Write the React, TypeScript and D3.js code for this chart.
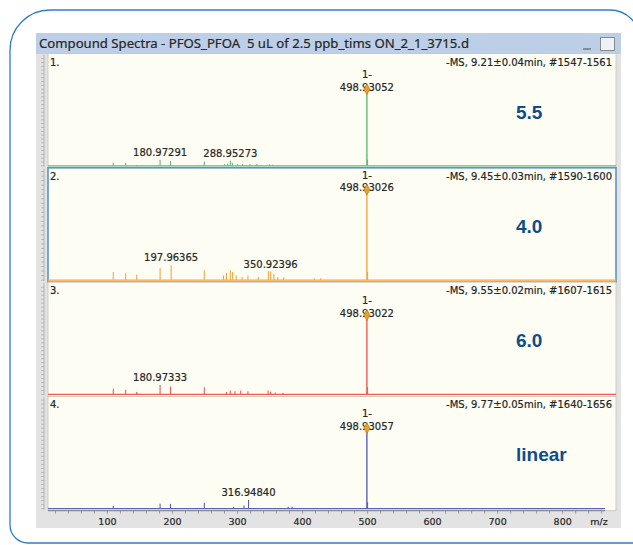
import React from 'react';
import * as d3 from 'd3';

// scan info
const scanNames = ['1.', '2.', '3.', '4.'];
const scanHeaders = [
  '-MS, 9.21±0.04min, #1547-1561',
  '-MS, 9.45±0.03min, #1590-1600',
  '-MS, 9.55±0.02min, #1607-1615',
  '-MS, 9.77±0.05min, #1640-1656',
];
const callouts = ['5.5', '4.0', '6.0', 'linear'];
const seriesColors = ['#5fba76', '#f6a646', '#ec5b58', '#5a62b6'];
const baseMz = [498.93052, 498.93026, 498.93022, 498.93057];
const yMax = [144, 122, 139, 137];

// [m/z, relative intensity %]
const scan1Peaks: [number, number][] = [
  [108.99, 4], [127.99, 3.5], [145.0, 1], [180.97291, 8], [196.97, 6],
  [248.96, 5.5], [280.0, 2], [284.96, 3], [288.95273, 6.5], [292.0, 4],
  [300.0, 2], [308.0, 2.5], [318.96, 2], [330.0, 2.5], [349.0, 2], [354.0, 1.5],
  [499.93, 8], [498.93052, 100],
];
const scan2Peaks: [number, number][] = [
  [108.99, 9], [127.99, 7.5], [144.99, 6], [180.97, 13.5], [197.96365, 16.5],
  [248.96, 11], [278.5, 5], [283.0, 8], [288.95, 11], [292.5, 9], [298.0, 5],
  [307.0, 3.5], [316.0, 5], [332.0, 3.3], [347.5, 10], [350.92396, 9.5],
  [356.0, 6.5], [362.0, 3.5], [371.0, 3], [418.0, 2], [428.0, 2],
  [499.93, 9], [498.93026, 100],
];
const scan3Peaks: [number, number][] = [
  [108.99, 7], [127.99, 6], [144.99, 3], [180.97333, 12], [196.97, 10],
  [248.96, 9], [283.0, 3], [288.95, 5], [296.0, 4], [305.0, 5], [316.0, 4],
  [347.0, 5], [350.9, 3.5], [358.0, 2.5], [370.0, 2],
  [499.93, 9], [498.93022, 100],
];
const scan4Peaks: [number, number][] = [
  [108.99, 3.5], [130.0, 1], [150.0, 1], [180.97, 6], [196.97, 6], [248.96, 7.5],
  [294.0, 2.5], [310.0, 4], [316.9484, 11], [345.0, 1], [378.0, 2.5], [384.0, 2.5],
  [499.93, 8], [498.93057, 100],
];
const scanPeaks = [scan1Peaks, scan2Peaks, scan3Peaks, scan4Peaks];
const scanLabels = [[180.97291, 288.95273], [197.96365, 350.92396], [180.97333], [316.9484]];

const xTicks = [100, 200, 300, 400, 500, 600, 700, 800];
const xMinorTicks = d3.range(20, 861, 20);

const W = 633, H = 545;
const plotL = 48, plotR = 616;
const firstTop = 53.5, panelH = 114.3;
const labelFont = '"DejaVu Sans", Verdana, sans-serif';
const ink = { fill: '#262626', stroke: '#262626', strokeWidth: 0.2 };

export default function App() {
  const x = d3.scaleLinear().domain([8.6, 882]).range([plotL, plotR]);
  const diamond = d3.symbol().type(d3.symbolDiamond).size(34)() || '';
  const axisY = firstTop + 4 * panelH;

  return (
    <svg width={W} height={H} style={{ position: 'absolute', left: 0, top: 0, background: '#fff' }}>
      {/* outer rounded frame */}
      <path
        d="M10,50 A40,40 0 0 1 50,10 L610,10 A30,30 0 0 1 640,40 L640,560 M10,50 L10,525 A18,18 0 0 0 28,543 L640,543"
        fill="none" stroke="#2f7fc6" strokeWidth={1.3} />

      {/* window */}
      <rect x={36} y={33} width={585} height={495} fill="#e3e3e3" />
      <rect x={36} y={33} width={585} height={21} fill="#bccfe6" />
      <text x={39} y={48} fontFamily='"Noto Sans", "Open Sans", sans-serif' fontSize={12.5}
        {...ink} textLength={430} lengthAdjust="spacingAndGlyphs" style={{ whiteSpace: 'pre' }}>
        {'Compound Spectra - PFOS_PFOA  5 uL of 2.5 ppb_tims ON_2_1_3715.d'}
      </text>
      <line x1={583} x2={591} y1={49} y2={49} stroke="#777" strokeWidth={1.5} />
      <rect x={600.5} y={37.5} width={14} height={13} fill="#eef2f6" stroke="#8a8a8a" />

      {scanPeaks.map((peaks, i) => {
        const top = firstTop + i * panelH;
        const bottom = top + panelH;
        const base = bottom - 2;
        const y = d3.scaleLinear().domain([0, yMax[i]]).range([base, top + 2]);
        const color = seriesColors[i];
        const mainTop = y(100);
        const ruler = y.ticks(28);
        return (
          <g key={i}>
            <rect x={plotL} y={top} width={plotR - plotL} height={panelH} fill="#fdfdf3"
              stroke={i === 1 ? '#5b93cc' : '#c4c4bc'} strokeWidth={i === 1 ? 1.6 : 0.8} />
            {/* left ruler */}
            <line x1={44} x2={44} y1={top + 1} y2={bottom - 1} stroke="#a8a8a8" strokeWidth={0.8} />
            {ruler.map((t) => (
              <line key={t} x1={41} x2={44} y1={y(t)} y2={y(t)} stroke="#a8a8a8" strokeWidth={0.7} />
            ))}
            <text x={50} y={top + 12} fontFamily={labelFont} fontSize={10} {...ink}>{scanNames[i]}</text>
            <text x={612} y={top + 12} textAnchor="end" fontFamily={labelFont} fontSize={10} {...ink}>
              {scanHeaders[i]}
            </text>
            <line x1={plotL} x2={i === 3 ? 605 : plotR} y1={base} y2={base} stroke={color} strokeWidth={1.3} />
            {peaks.map(([mz, v], k) => (
              <line key={k} x1={x(mz)} x2={x(mz)} y1={base} y2={y(v)} stroke={color}
                strokeWidth={v >= 100 ? 1.4 : 1.1} />
            ))}
            {scanLabels[i].map((mz) => {
              const pk = peaks.find((p) => p[0] === mz);
              const v = pk ? pk[1] : 0;
              return (
                <text key={mz} x={x(mz)} y={y(v) - 4} textAnchor="middle" fontFamily={labelFont}
                  fontSize={10} {...ink}>{mz.toFixed(5)}</text>
              );
            })}
            <text x={x(baseMz[i])} y={mainTop - 11} textAnchor="middle" fontFamily={labelFont}
              fontSize={10} {...ink}>1-</text>
            <text x={x(baseMz[i])} y={mainTop + 1.5} textAnchor="middle" fontFamily={labelFont}
              fontSize={10} {...ink}>{baseMz[i].toFixed(5)}</text>
            <path d={diamond} transform={`translate(${x(baseMz[i])},${mainTop})`}
              fill="#eb9d2e" stroke="#b87416" strokeWidth={0.6} />
            <text x={516} y={top + 65} fontFamily='"Liberation Sans", Arial, sans-serif' fontWeight="bold"
              fontSize={19} fill="#0e4c8a">{callouts[i]}</text>
          </g>
        );
      })}

      {/* x axis */}
      <line x1={plotL} x2={605} y1={axisY} y2={axisY} stroke="#7c7c8a" strokeWidth={1} />
      {xMinorTicks.map((t) => (
        <line key={t} x1={x(t)} x2={x(t)} y1={axisY} y2={axisY + 3} stroke="#8a8a8a" strokeWidth={0.8} />
      ))}
      {xTicks.map((t) => (
        <text key={t} x={x(t)} y={axisY + 14} textAnchor="middle" fontFamily={labelFont}
          fontSize={9.5} {...ink}>{t}</text>
      ))}
      <text x={599} y={axisY + 14} textAnchor="middle" fontFamily={labelFont} fontSize={9.5} {...ink}>m/z</text>
    </svg>
  );
}
